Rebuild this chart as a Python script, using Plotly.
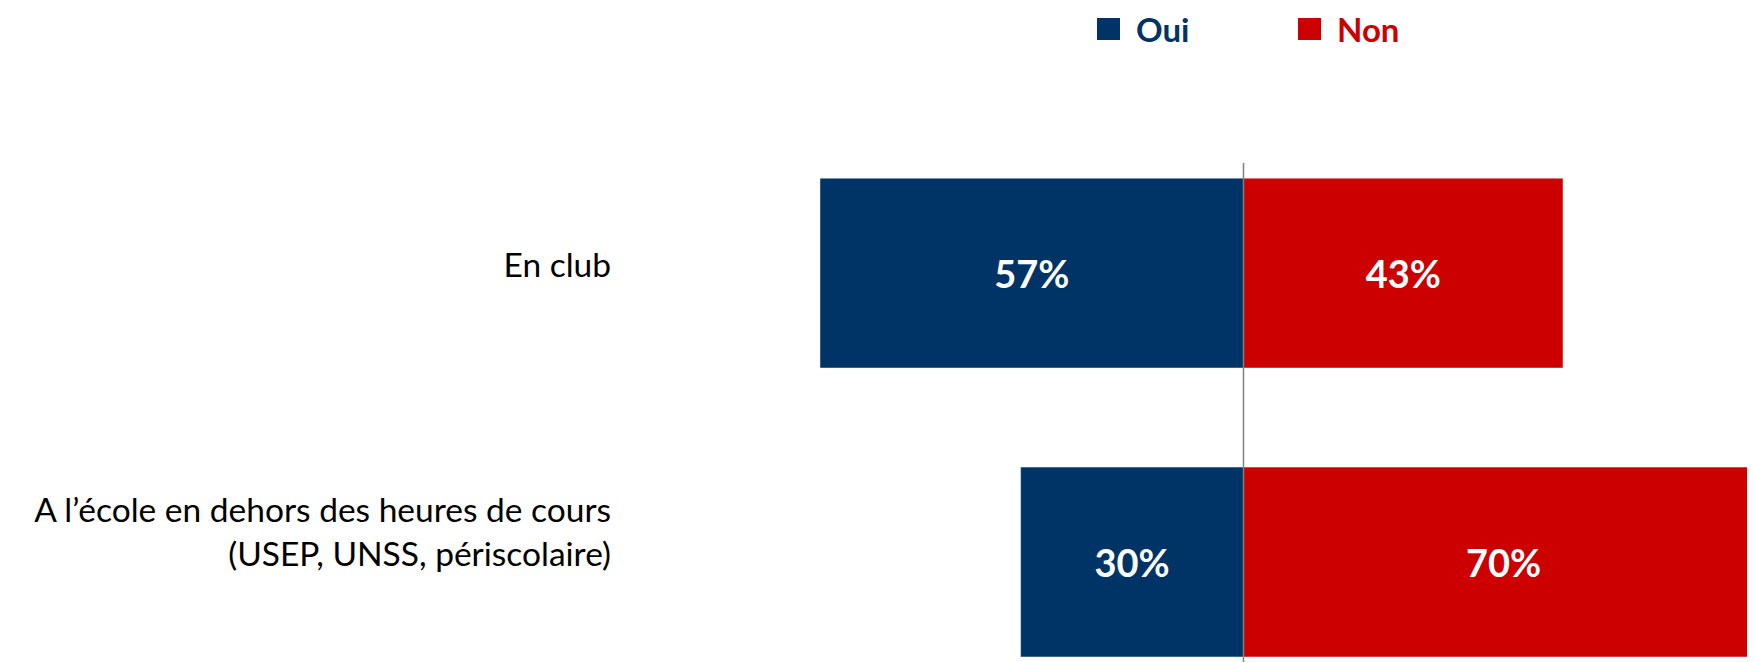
import plotly.graph_objects as go

categories = ["En club", "A l’école en dehors des heures de cours<br>(USEP, UNSS, périscolaire)<br> "]
oui = [57, 30]
non = [43, 70]
series_names = ["Oui", "Non"]
colors = {"Oui": "#003366", "Non": "#CC0000"}

# page body has an 8px margin: figure coords = page coords - 8
W, H = 1747, 654
ML, MT = 614, 155
zero_px = 1235.5
ppu = 7.43
x_range = [-(zero_px - ML) / ppu, (W - zero_px) / ppu]

fig = go.Figure()
fig.add_trace(go.Bar(
    y=categories, x=[-v for v in oui], orientation="h", name="Oui",
    marker=dict(color=colors["Oui"], line=dict(color="rgba(255,255,255,0.45)", width=1)),
    text=[f"{v}%" for v in oui], textposition="inside", insidetextanchor="middle",
    textangle=0, textfont=dict(family="Lato", size=38, color="white", weight="bold"),
    width=0.657, showlegend=False, hovertemplate="Oui: %{text}<extra></extra>",
))
fig.add_trace(go.Bar(
    y=categories, x=non, orientation="h", name="Non",
    marker=dict(color=colors["Non"], line=dict(color="rgba(255,255,255,0.45)", width=1)),
    text=[f"{v}%" for v in non], textposition="inside", insidetextanchor="middle",
    textangle=0, textfont=dict(family="Lato", size=38, color="white", weight="bold"),
    width=0.657, showlegend=False, hovertemplate="Non: %{text}<extra></extra>",
))

fig.add_shape(type="line", xref="x", yref="paper", x0=0, x1=0, y0=0, y1=1,
              line=dict(color="#808080", width=1.5), layer="above")

def px_to_paper_x(px):
    return (px - ML) / (W - ML)

def py_to_paper_y(py):
    return (H - py) / (H - MT)

# legend: colour key + bold label
for name, sq_x, txt_x in zip(series_names, [1089, 1290], [1127, 1328]):
    fig.add_shape(
        type="rect", xref="paper", yref="paper",
        x0=px_to_paper_x(sq_x), x1=px_to_paper_x(sq_x + 23),
        y0=py_to_paper_y(32), y1=py_to_paper_y(10),
        fillcolor=colors[name], line=dict(width=0), layer="above",
    )
    fig.add_annotation(
        xref="paper", yref="paper", x=px_to_paper_x(txt_x), y=py_to_paper_y(21),
        xanchor="left", yanchor="middle", showarrow=False, text=name, borderpad=0,
        font=dict(family="Lato", size=33, color=colors[name], weight="bold"),
    )

fig.update_layout(
    width=W, height=H,
    margin=dict(l=ML, r=0, t=MT, b=0, autoexpand=False),
    paper_bgcolor="white", plot_bgcolor="white",
    barmode="relative",
    xaxis=dict(range=x_range, visible=False, fixedrange=True),
    yaxis=dict(range=[1.346, -0.381], showgrid=False, zeroline=False, showline=False,
               ticks="", ticklabelstandoff=10, ticklabelshift=8,
               tickfont=dict(family="Lato", size=33.5, color="black")),
    showlegend=False,
)

fig.write_html("out.html")
